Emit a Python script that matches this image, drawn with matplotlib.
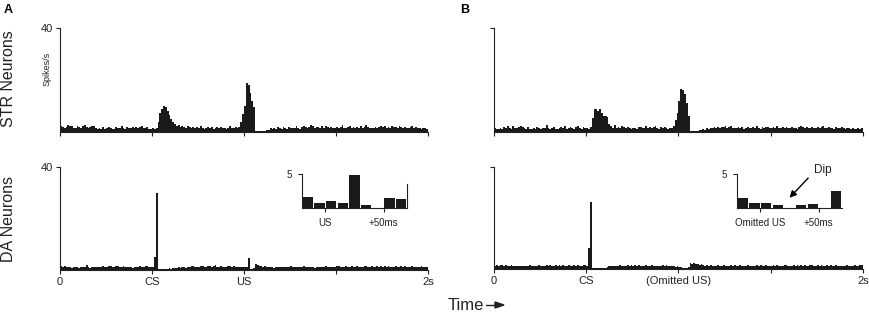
import numpy as np
import matplotlib.pyplot as plt

plt.rcParams['font.family'] = ['Liberation Sans', 'DejaVu Sans']

# 10 ms bins over 0..2 s, values in spikes/s
bin_edges = np.linspace(0, 2, 201)

str_a = [2.4, 2.0, 1.6, 1.8, 2.6, 2.4, 2.2, 1.5, 1.7, 2.3,
         2.0, 1.6, 2.2, 2.8, 2.1, 1.4, 1.8, 2.5, 2.2, 1.6,
         1.2, 1.5, 1.3, 1.8, 1.1, 1.4, 2.0, 1.6, 1.3, 1.2,
         1.9, 1.5, 1.4, 2.3, 1.6, 1.3, 1.8, 1.7, 1.5, 1.9,
         1.6, 2.1, 1.5, 1.8, 2.4, 1.7, 1.4, 1.9, 1.3, 1.2,
         1.4, 1.3, 1.6, 4.0, 7.5, 8.8, 10.0, 9.5, 8.0, 6.5,
         5.0, 4.0, 3.2, 2.5, 2.8, 1.8, 2.4, 2.0, 1.6, 2.3,
         1.9, 1.7, 2.1, 1.5, 1.8, 1.4, 2.2, 1.6, 1.3, 1.7,
         2.0, 1.5, 1.8, 1.3, 1.6, 2.1, 1.4, 1.9, 1.5, 1.7,
         1.3, 1.6, 2.2, 1.5, 1.4, 1.8, 1.6, 2.0, 4.0, 7.0,
         10.0, 19.0, 18.0, 15.0, 12.0, 9.5, 0.3, 0.2, 0.3, 0.3,
         0.4, 0.5, 0.6, 0.8, 1.4, 1.0, 1.6, 1.2, 1.8, 1.5,
         1.2, 1.9, 1.6, 1.3, 2.0, 1.5, 1.7, 1.4, 2.2, 1.6,
         1.3, 1.8, 2.3, 1.9, 1.4, 2.0, 2.8, 2.2, 1.6, 1.8,
         1.9, 1.5, 2.2, 1.7, 2.5, 1.8, 1.6, 2.0, 1.4, 1.7,
         2.1, 1.5, 1.9, 2.6, 1.7, 1.4, 1.8, 2.2, 1.6, 1.9,
         1.5, 2.0, 1.7, 2.3, 1.6, 1.8, 2.8, 2.0, 1.5, 1.7,
         1.4, 2.1, 1.6, 1.9, 2.4, 1.8, 2.2, 1.6, 2.0, 1.7,
         2.3, 1.8, 2.0, 1.5, 2.2, 1.9, 1.6, 2.1, 1.7, 1.4,
         1.9, 2.2, 1.6, 1.8, 1.5, 1.7, 1.3, 1.6, 1.4, 1.2]

str_b = [1.4, 1.0, 1.2, 1.6, 1.3, 1.8, 1.5, 2.4, 1.6, 1.2,
         2.2, 1.7, 1.4, 1.9, 2.5, 2.0, 1.5, 1.3, 1.8, 1.2,
         1.1, 1.6, 1.3, 1.9, 1.4, 1.2, 1.7, 1.5, 2.8, 1.4,
         1.1, 1.5, 1.9, 1.3, 1.2, 1.6, 1.8, 1.4, 2.2, 1.3,
         1.6, 2.0, 1.5, 1.2, 1.9, 2.4, 1.5, 1.3, 2.0, 1.6,
         1.4, 1.2, 1.8, 5.5, 8.8, 8.8, 8.2, 8.8, 7.5, 6.0,
         6.0, 5.8, 3.0, 2.2, 1.6, 2.6, 1.4, 1.8, 1.5, 2.2,
         1.9, 1.6, 1.8, 1.4, 1.2, 1.7, 1.5, 1.3, 1.8, 2.0,
         1.4, 1.6, 2.2, 1.5, 1.9, 1.4, 1.8, 2.3, 1.5, 1.3,
         1.8, 1.5, 2.1, 1.6, 1.3, 1.7, 1.4, 2.5, 4.5, 7.5,
         12.0, 16.5, 16.0, 14.5, 11.0, 6.0, 0.3, 0.2, 0.3, 0.3,
         0.4, 0.6, 0.8, 1.2, 0.9, 1.5, 1.3, 1.7, 1.4, 1.8,
         1.6, 1.9, 1.5, 2.1, 1.8, 2.2, 1.6, 1.9, 2.3, 1.5,
         1.7, 1.4, 1.9, 1.6, 1.8, 1.3, 1.7, 2.0, 1.5, 1.4,
         1.8, 1.6, 2.2, 1.7, 1.3, 1.9, 1.5, 1.8, 2.1, 1.6,
         1.4, 1.9, 1.6, 2.3, 1.7, 1.5, 2.0, 1.6, 1.8, 1.4,
         1.6, 2.0, 1.5, 1.7, 1.3, 1.9, 2.4, 1.8, 1.6, 2.1,
         1.5, 1.7, 1.9, 1.4, 1.6, 2.0, 1.5, 1.8, 2.2, 1.6,
         1.4, 1.9, 1.5, 1.7, 1.3, 1.8, 1.6, 1.4, 1.9, 1.5,
         1.2, 1.6, 1.4, 1.0, 1.5, 1.3, 1.2, 1.5, 1.1, 1.6]

da_a = [1.6, 1.2, 1.4, 1.0, 1.3, 1.1, 0.9, 1.2, 1.0, 1.3,
        0.9, 1.1, 1.0, 1.2, 2.0, 1.0, 0.9, 1.1, 1.2, 1.0,
        1.1, 1.3, 1.2, 1.5, 1.3, 1.1, 1.4, 1.6, 1.3, 1.2,
        1.5, 1.7, 1.3, 1.2, 1.4, 1.1, 1.2, 1.0, 1.3, 0.9,
        1.1, 1.0, 1.2, 1.6, 1.0, 1.1, 1.4, 1.5, 1.3, 1.1,
        1.2, 5.0, 30.0, 0.4, 0.3, 0.2, 0.2, 0.3, 0.4, 0.6,
        0.5, 0.8, 0.6, 0.9, 1.0, 0.8, 1.3, 1.1, 0.9, 1.2,
        1.0, 1.4, 1.6, 1.1, 1.3, 1.0, 1.5, 1.4, 1.3, 1.1,
        1.6, 1.5, 1.2, 1.4, 2.0, 1.3, 1.1, 1.4, 1.2, 1.0,
        1.3, 1.5, 1.4, 1.2, 1.6, 1.3, 1.0, 1.2, 1.1, 1.3,
        1.0, 1.2, 4.7, 0.5, 0.4, 0.6, 2.2, 1.9, 1.7, 1.5,
        1.3, 1.4, 1.2, 1.0, 1.1, 1.0, 0.9, 1.1, 1.2, 1.0,
        1.1, 1.3, 1.0, 1.2, 1.1, 1.4, 1.2, 1.0, 1.3, 1.1,
        1.0, 1.2, 1.4, 1.1, 1.0, 1.3, 1.1, 1.2, 0.9, 1.0,
        1.1, 1.3, 1.2, 1.0, 1.4, 1.1, 1.3, 1.0, 1.1, 1.2,
        1.4, 1.5, 1.2, 1.3, 1.1, 1.4, 1.3, 1.2, 1.5, 1.3,
        1.2, 1.4, 1.1, 1.3, 1.2, 1.4, 1.6, 1.3, 1.2, 1.4,
        1.1, 1.3, 1.5, 1.2, 1.4, 1.3, 1.7, 1.2, 1.4, 1.1,
        1.3, 1.2, 1.6, 1.3, 1.1, 1.4, 1.2, 1.5, 1.3, 1.1,
        1.2, 1.4, 1.0, 1.3, 1.2, 1.1, 1.5, 1.0, 1.3, 1.2]

da_b = [1.1, 1.5, 1.3, 1.6, 1.4, 1.2, 1.5, 1.3, 1.1, 1.4,
        1.2, 1.3, 1.0, 1.2, 1.1, 1.3, 1.0, 1.2, 1.1, 1.4,
        1.2, 1.0, 1.3, 1.1, 1.5, 1.2, 1.0, 1.3, 1.6, 1.2,
        1.4, 1.1, 1.3, 1.5, 1.2, 1.4, 1.1, 1.6, 1.3, 1.2,
        1.5, 1.3, 1.1, 1.4, 1.2, 1.6, 1.3, 1.1, 1.4, 1.5,
        1.2, 8.3, 26.4, 0.5, 0.2, 0.2, 0.2, 0.3, 0.2, 0.3,
        0.4, 0.6, 1.0, 1.2, 1.1, 1.3, 1.0, 1.2, 1.4, 1.1,
        1.3, 1.0, 1.5, 1.2, 1.6, 1.3, 1.4, 1.2, 1.5, 1.1,
        1.3, 1.2, 1.4, 1.1, 1.3, 1.6, 1.0, 1.2, 1.1, 1.3,
        1.0, 1.4, 1.2, 1.7, 1.1, 1.0, 1.2, 1.3, 0.9, 1.1,
        0.8, 0.6, 0.4, 0.3, 0.5, 0.7, 2.4, 2.0, 2.2, 1.8,
        1.9, 1.7, 2.0, 1.5, 1.3, 1.6, 1.2, 1.4, 1.1, 1.3,
        1.2, 1.4, 1.1, 1.3, 1.5, 1.2, 1.0, 1.3, 1.6, 1.1,
        1.4, 1.2, 1.0, 1.5, 1.3, 1.1, 1.2, 1.4, 1.0, 1.2,
        1.3, 1.1, 1.4, 1.2, 1.5, 1.3, 1.1, 1.6, 1.2, 1.0,
        1.3, 1.5, 1.2, 1.4, 1.1, 1.3, 1.2, 1.5, 1.4, 1.2,
        1.3, 1.1, 1.5, 1.2, 1.6, 1.3, 1.4, 1.2, 1.5, 1.3,
        1.1, 1.4, 1.6, 1.2, 1.3, 1.5, 1.2, 1.4, 1.1, 1.3,
        1.5, 1.2, 1.4, 1.3, 1.1, 1.5, 1.2, 1.0, 1.3, 1.2,
        1.1, 1.4, 1.2, 1.0, 1.3, 1.5, 1.1, 1.2, 1.4, 1.6]

# insets: 10 ms bins from -20 to +70 ms around the (omitted) US
inset_edges = np.arange(-20, 70, 10)
inset_a = [1.6, 0.73, 0.97, 0.73, 4.9, 0.5, 0.05, 1.4, 1.26]
inset_b = [1.45, 0.73, 0.78, 0.4, 0.03, 0.44, 0.63, 0.03, 2.5]

main_ticks = [0, 0.5, 1.0, 1.5, 2.0]
labels_a = ['0', 'CS', 'US', '', '2s']
labels_b = ['0', 'CS', '(Omitted US)', '', '2s']

W, H = 870, 315
fig = plt.figure(figsize=(W / 100, H / 100), dpi=100)


def px_axes(x0, x1, ytop, ybot):
    return fig.add_axes([x0 / W, 1 - ybot / H, (x1 - x0) / W, (ybot - ytop) / H])


def style(ax):
    for s in ['top', 'right']:
        ax.spines[s].set_visible(False)
    for s in ['left', 'bottom']:
        ax.spines[s].set_linewidth(0.8)
        ax.spines[s].set_color('#222222')
    ax.tick_params(direction='out', length=3, width=0.8, colors='#222222',
                   labelsize=8, pad=2)


def hist_panel(ax, vals, ticklabels, ylab):
    ax.stairs(vals, bin_edges, fill=True, color='#1a1a1a', linewidth=0)
    ax.set_xlim(0, 2)
    ax.set_ylim(0, 40)
    ax.set_xticks(main_ticks)
    if ticklabels is None:
        ax.set_xticklabels([])
    else:
        ax.set_xticklabels(ticklabels)
    ax.set_yticks([40])
    ax.set_yticklabels(['40'] if ylab else [])
    style(ax)


ax1 = px_axes(60, 428, 28, 132)
hist_panel(ax1, str_a, None, True)
ax2 = px_axes(60, 428, 167, 270)
hist_panel(ax2, da_a, labels_a, True)
ax3 = px_axes(494, 863, 28, 132)
hist_panel(ax3, str_b, None, False)
ax4 = px_axes(494, 863, 167, 269)
hist_panel(ax4, da_b, labels_b, False)


def inset(x0, vals, lab0):
    ax = px_axes(x0, x0 + 105, 174, 208)
    ax.bar(inset_edges + 0.6, vals, width=8.8, align='edge', color='#1a1a1a', linewidth=0)
    ax.set_xlim(-20, 70)
    ax.set_ylim(0, 5)
    ax.set_xticks([0, 50])
    ax.set_xticklabels([lab0, '+50ms'])
    ax.set_yticks([5])
    ax.set_yticklabels(['5'])
    style(ax)
    ax.tick_params(labelsize=7, length=3, pad=4)
    return ax


ins_a = inset(302, inset_a, 'US')
ins_a.plot([70, 70], [0, 3.6], color='#222222', lw=0.8, clip_on=False)
ins_b = inset(737, inset_b, 'Omitted US')
ins_b.text(46, 5.6, 'Dip', fontsize=8.5, ha='left', va='center', color='#222222')
ins_b.annotate('', xy=(25, 1.5), xytext=(41, 4.4), annotation_clip=False,
               arrowprops=dict(arrowstyle='-|>', color='black', lw=1.0,
                               mutation_scale=10, shrinkA=0, shrinkB=0))

# labels
fig.text(8 / W, 1 - 10 / H, 'A', fontsize=9, fontweight='bold', ha='center', va='center')
fig.text(465 / W, 1 - 10 / H, 'B', fontsize=9, fontweight='bold', ha='center', va='center')
fig.text(9 / W, 1 - 79 / H, 'STR Neurons', fontsize=11.5, rotation=90,
         ha='center', va='center', color='#222222')
fig.text(9 / W, 1 - 219 / H, 'DA Neurons', fontsize=11.5, rotation=90,
         ha='center', va='center', color='#222222')
fig.text(47 / W, 1 - 69 / H, 'Spikes/s', fontsize=6.5, rotation=90,
         ha='center', va='center', color='#222222')
fig.text(448 / W, 1 - 305 / H, 'Time', fontsize=12, ha='left', va='center', color='#222222')
fig.add_artist(plt.Line2D([486 / W, 497 / W], [1 - 305 / H, 1 - 305 / H],
                          color='#222222', lw=1.0))
fig.add_artist(plt.Polygon([[495 / W, 1 - 302 / H], [504 / W, 1 - 305 / H],
                            [495 / W, 1 - 308 / H]], closed=True, color='#222222'))

fig.savefig('out.png', dpi=100)
